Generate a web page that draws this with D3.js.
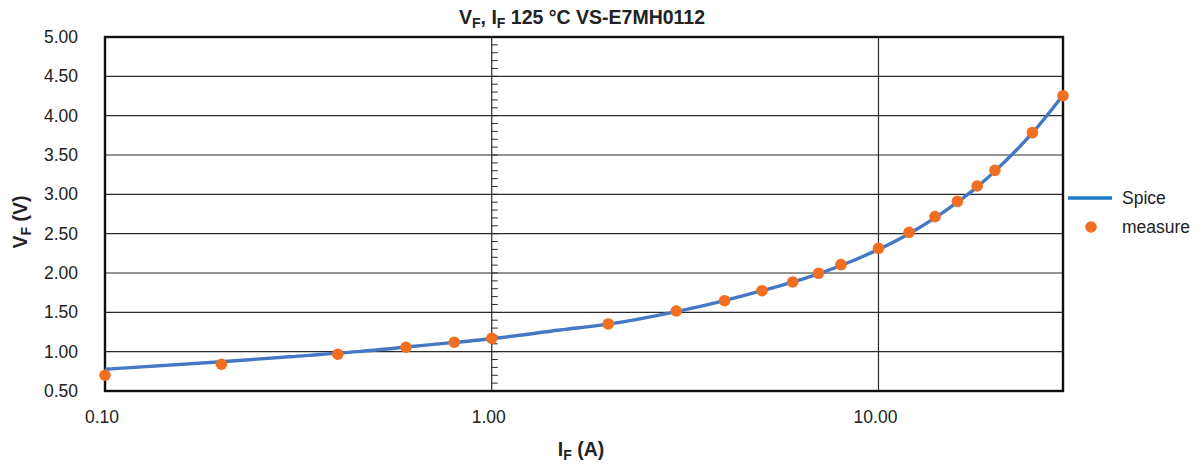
<!DOCTYPE html>
<html>
<head>
<meta charset="utf-8">
<script src="https://cdn.jsdelivr.net/npm/d3@7"></script>
<style>
  body { margin: 0; background: #fff; }
  svg { font-family: "Liberation Sans", Arial, Helvetica, sans-serif; }
</style>
</head>
<body>
<div id="chart"></div>
<script>
// forward current (A) of the measured points
var measureI = [0.1, 0.2, 0.4, 0.6, 0.8, 1, 2, 3, 4, 5, 6, 7, 8, 10, 12, 14, 16, 18, 20, 25, 30];
// forward voltage (V) measured
var measureV = [0.70, 0.84, 0.967, 1.056, 1.12, 1.17, 1.352, 1.517, 1.648, 1.775, 1.886, 1.996, 2.106, 2.314, 2.517, 2.716, 2.911, 3.106, 3.305, 3.784, 4.254];

// spice model curve samples
var spiceI = [0.1, 0.2, 0.3, 0.45, 0.7, 1, 1.5, 2, 3, 4, 5, 6, 7, 8, 10, 12, 14, 16, 18, 20, 25, 30];
var spiceV = [0.776, 0.872, 0.935, 1.0, 1.09, 1.165, 1.275, 1.35, 1.51, 1.65, 1.775, 1.885, 1.99, 2.095, 2.30, 2.50, 2.70, 2.90, 3.095, 3.295, 3.78, 4.26];

var xTicks = [0.1, 1, 10];
var yTicks = [0.5, 1, 1.5, 2, 2.5, 3, 3.5, 4, 4.5, 5];

var WIDTH = 1200, HEIGHT = 464;
var margin = {top: 37, right: 137, bottom: 73, left: 105},
    width = WIDTH - margin.left - margin.right,
    height = HEIGHT - margin.top - margin.bottom;

var blue = "#4478c4", orange = "#f26f22";

var svg = d3.select("#chart").append("svg")
  .attr("width", WIDTH)
  .attr("height", HEIGHT);

var g = svg.append("g").attr("transform", `translate(${margin.left},${margin.top})`);

var x = d3.scaleLog().domain([0.1, 30]).range([0, width]);
var y = d3.scaleLinear().domain([0.5, 5]).range([height, 0]);

// horizontal gridlines
g.selectAll("line.hgrid")
  .data(yTicks)
  .join("line")
    .attr("class", "hgrid")
    .attr("x1", 0).attr("x2", width)
    .attr("y1", d => y(d)).attr("y2", d => y(d))
    .attr("stroke", "#2a2a2a").attr("stroke-width", 1.2);

// vertical gridlines at the decades
g.selectAll("line.vgrid")
  .data(xTicks.slice(1))
  .join("line")
    .attr("class", "vgrid")
    .attr("x1", d => x(d)).attr("x2", d => x(d))
    .attr("y1", 0).attr("y2", height)
    .attr("stroke", "#2a2a2a").attr("stroke-width", 1.2);

// value axis crosses at 1.00 with minor ticks every 0.1
var minor = d3.range(5, 51).map(d => d / 10);
g.selectAll("line.minor")
  .data(minor)
  .join("line")
    .attr("class", "minor")
    .attr("x1", x(1)).attr("x2", x(1) + 6)
    .attr("y1", d => y(d)).attr("y2", d => y(d))
    .attr("stroke", "#2a2a2a").attr("stroke-width", 1);

// plot border
g.append("rect")
  .attr("width", width).attr("height", height)
  .attr("fill", "none").attr("stroke", "#111").attr("stroke-width", 2.4);

// tick labels
g.selectAll("text.ylab")
  .data(yTicks)
  .join("text")
    .attr("class", "ylab")
    .attr("x", -27).attr("y", d => y(d))
    .attr("dy", "0.35em")
    .attr("text-anchor", "end")
    .style("font-size", "17.5px").attr("fill", "#222")
    .text(d3.format(".2f"));

g.selectAll("text.xlab")
  .data(xTicks)
  .join("text")
    .attr("class", "xlab")
    .attr("x", d => x(d) - 3).attr("y", height + 32)
    .attr("text-anchor", "middle")
    .style("font-size", "17.5px").attr("fill", "#222")
    .text(d3.format(".2f"));

// spice curve
var line = d3.line()
  .x((d, i) => x(spiceI[i]))
  .y(d => y(d))
  .curve(d3.curveMonotoneX);

g.append("path")
  .attr("d", line(spiceV))
  .attr("fill", "none")
  .attr("stroke", blue)
  .attr("stroke-width", 3.4);

// measured points
g.selectAll("circle.pt")
  .data(measureV)
  .join("circle")
    .attr("class", "pt")
    .attr("cx", (d, i) => x(measureI[i]))
    .attr("cy", d => y(d))
    .attr("r", 5.8)
    .attr("fill", orange);

// text with subscripts
function subText(sel, parts) {
  parts.forEach(p => {
    sel.append("tspan")
      .attr("dy", p[1] ? 4 : (p[2] ? -4 : 0))
      .style("font-size", p[1] ? "0.72em" : null)
      .text(p[0]);
  });
}

var title = svg.append("text")
  .attr("x", margin.left + width / 2 - 2).attr("y", 24)
  .attr("text-anchor", "middle")
  .style("font-size", "19.5px").style("font-weight", "bold").attr("fill", "#222");
subText(title, [["V"], ["F", true], [", I", false, true], ["F", true], [" 125 °C VS-E7MH0112", false, true]]);

var xTitle = svg.append("text")
  .attr("x", margin.left + width / 2 - 3).attr("y", 456)
  .attr("text-anchor", "middle")
  .style("font-size", "19.5px").style("font-weight", "bold").attr("fill", "#222");
subText(xTitle, [["I"], ["F", true], [" (A)", false, true]]);

var yTitle = svg.append("text")
  .attr("transform", `translate(27,${margin.top + height / 2 + 8}) rotate(-90)`)
  .attr("text-anchor", "middle")
  .style("font-size", "19.5px").style("font-weight", "bold").attr("fill", "#222");
subText(yTitle, [["V"], ["F", true], [" (V)", false, true]]);

// legend
var legend = svg.append("g").style("font-size", "17.5px");
legend.append("line")
  .attr("x1", 1068).attr("x2", 1112).attr("y1", 198).attr("y2", 198)
  .attr("stroke", "#1f78c8").attr("stroke-width", 3.4);
legend.append("text").attr("x", 1122).attr("y", 198).attr("dy", "0.35em").attr("fill", "#222").text("Spice");
legend.append("circle").attr("cx", 1091).attr("cy", 227).attr("r", 5.8).attr("fill", orange);
legend.append("text").attr("x", 1122).attr("y", 227).attr("dy", "0.35em").attr("fill", "#222").text("measure");
</script>
</body>
</html>
